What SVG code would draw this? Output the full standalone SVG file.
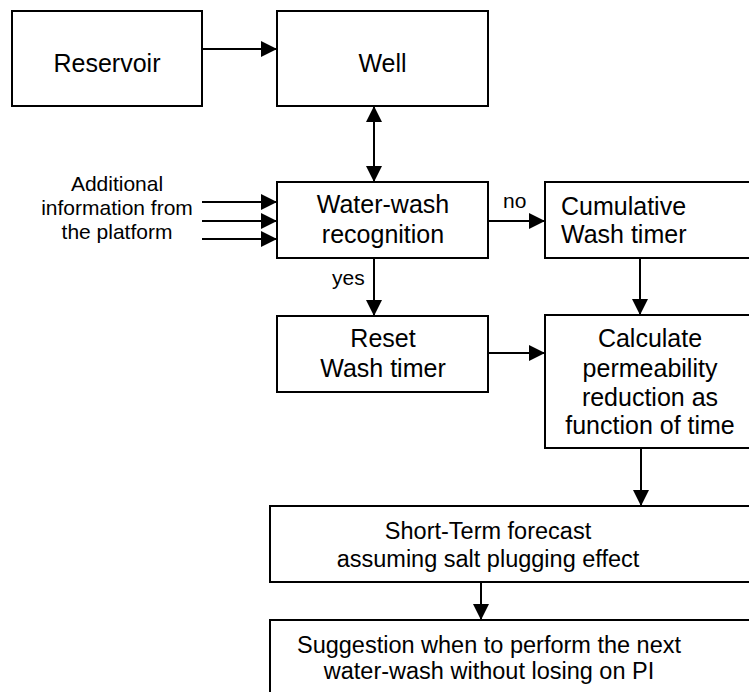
<svg xmlns="http://www.w3.org/2000/svg" width="749" height="692" viewBox="0 0 749 692">
<defs>
<style>
.box{fill:#fff;stroke:#000;stroke-width:2}
.t{font-family:"Liberation Sans",Arial,sans-serif;font-size:25px;fill:#000;text-anchor:middle}
.tl{font-family:"Liberation Sans",Arial,sans-serif;font-size:25px;fill:#000;text-anchor:start}
.tb{font-family:"Liberation Sans",Arial,sans-serif;font-size:23.5px;fill:#000;text-anchor:middle}
.s{font-family:"Liberation Sans",Arial,sans-serif;font-size:21px;fill:#000}
.sm{font-family:"Liberation Sans",Arial,sans-serif;font-size:21px;fill:#000;text-anchor:middle}
.c{fill:none;stroke:#000;stroke-width:2}
</style>
<marker id="ah" markerUnits="userSpaceOnUse" markerWidth="16" markerHeight="16" refX="16" refY="8" orient="auto-start-reverse">
<path d="M0,0 L16,8 L0,16 z" fill="#000"/>
</marker>
</defs>
<rect width="749" height="692" fill="#fff"/>
<g id="connectors">
<line class="c" x1="202" y1="49" x2="277" y2="49" marker-end="url(#ah)"/>
<line class="c" x1="374" y1="106" x2="374" y2="182" marker-start="url(#ah)" marker-end="url(#ah)"/>
<line class="c" x1="202" y1="202" x2="277" y2="202" marker-end="url(#ah)"/>
<line class="c" x1="202" y1="221" x2="277" y2="221" marker-end="url(#ah)"/>
<line class="c" x1="202" y1="239" x2="277" y2="239" marker-end="url(#ah)"/>
<line class="c" x1="488" y1="221" x2="545" y2="221" marker-end="url(#ah)"/>
<line class="c" x1="374" y1="258" x2="374" y2="316" marker-end="url(#ah)"/>
<line class="c" x1="640" y1="258" x2="640" y2="315" marker-end="url(#ah)"/>
<line class="c" x1="488" y1="353" x2="545" y2="353" marker-end="url(#ah)"/>
<line class="c" x1="641" y1="448" x2="641" y2="506" marker-end="url(#ah)"/>
<line class="c" x1="481" y1="582" x2="481" y2="620" marker-end="url(#ah)"/>
<text class="s" x="503" y="208">no</text>
<text class="s" x="332" y="285">yes</text>
</g>
<g id="additional-info">
<text class="sm" x="117" y="191">Additional</text>
<text class="sm" x="117" y="215">information from</text>
<text class="sm" x="117" y="239">the platform</text>
</g>
<g id="reservoir">
<rect class="box" x="12" y="11" width="190" height="95"/>
<text class="t" x="107" y="72">Reservoir</text>
</g>
<g id="well">
<rect class="box" x="277" y="11" width="211" height="95"/>
<text class="t" x="382.5" y="72">Well</text>
</g>
<g id="water-wash">
<rect class="box" x="277" y="182" width="211" height="76"/>
<text class="t" x="383" y="213">Water-wash</text>
<text class="t" x="383" y="243">recognition</text>
</g>
<g id="cumulative">
<rect class="box" x="545" y="182" width="211" height="76"/>
<text class="tl" x="561" y="215">Cumulative</text>
<text class="tl" x="561" y="243">Wash timer</text>
</g>
<g id="reset">
<rect class="box" x="277" y="316" width="211" height="76"/>
<text class="t" x="383" y="347">Reset</text>
<text class="t" x="383" y="377">Wash timer</text>
</g>
<g id="calculate">
<rect class="box" x="545" y="315" width="211" height="133"/>
<text class="t" x="650" y="347">Calculate</text>
<text class="t" x="650" y="377">permeability</text>
<text class="t" x="650" y="406">reduction as</text>
<text class="t" x="650" y="434">function of time</text>
</g>
<g id="short-term">
<rect class="box" x="270" y="506" width="490" height="76"/>
<text class="tb" x="488" y="539">Short-Term forecast</text>
<text class="tb" x="488" y="567">assuming salt plugging effect</text>
</g>
<g id="suggestion">
<rect class="box" x="270" y="620" width="490" height="90"/>
<text class="tb" x="489" y="653">Suggestion when to perform the next</text>
<text class="tb" x="489" y="679">water-wash without losing on PI</text>
</g>
</svg>
